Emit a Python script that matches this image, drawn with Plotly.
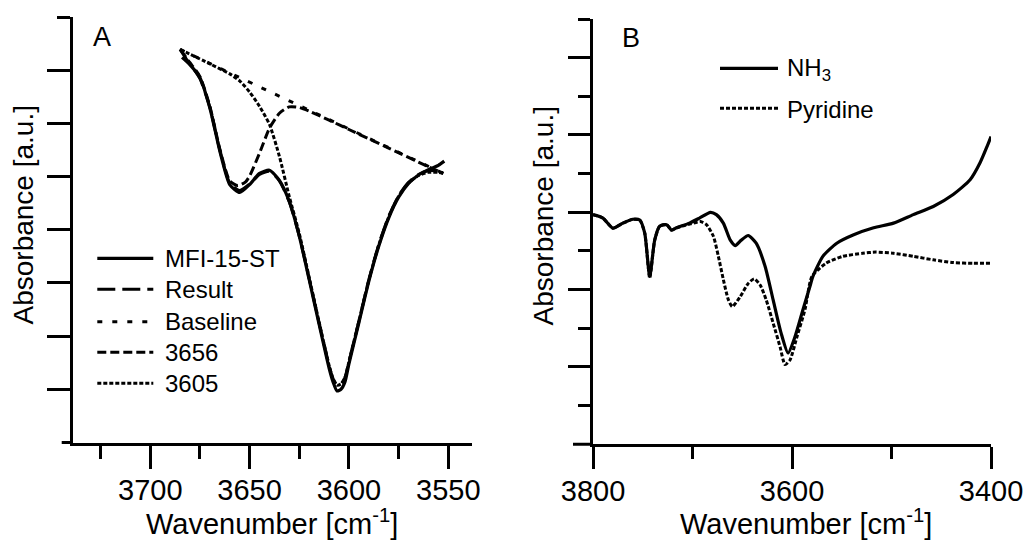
import plotly.graph_objects as go

# ---------------- data: panel A (band fit of MFI-15-ST) ----------------
A_WN_MFI = [3684, 3680, 3675, 3670, 3665, 3660, 3655, 3650, 3645, 3640, 3635, 3630,
            3625, 3620, 3615, 3610, 3608, 3606, 3604, 3602, 3600, 3595, 3590, 3585,
            3580, 3575, 3570, 3565, 3560, 3555, 3552]
A_MFI = [7.24, 7.10, 6.86, 6.29, 5.48, 4.85, 4.70, 4.85, 5.06, 5.12, 4.93, 4.53,
         3.88, 3.06, 2.22, 1.40, 1.14, 0.97, 1.00, 1.14, 1.48, 2.25, 3.03, 3.69,
         4.22, 4.61, 4.87, 5.03, 5.13, 5.21, 5.29]

A_WN_RES = [3685, 3682, 3680, 3675, 3670, 3665, 3660, 3655, 3650, 3645, 3640, 3635,
            3630, 3625, 3620, 3615, 3610, 3608, 3606, 3604, 3602, 3600, 3595, 3590,
            3585, 3580, 3575, 3570, 3565, 3560, 3555, 3552.5]
A_RES = [7.39, 7.22, 7.12, 6.84, 6.30, 5.50, 4.88, 4.74, 4.86, 5.04, 5.10, 4.92,
         4.52, 3.88, 3.08, 2.25, 1.45, 1.20, 1.08, 1.10, 1.22, 1.52, 2.28, 3.06,
         3.72, 4.25, 4.64, 4.89, 5.04, 5.11, 5.10, 5.06]

A_WN_BASE = [3685, 3552.5]
A_BASE = [7.39, 5.06]

A_WN_3656 = [3685, 3680, 3675, 3670, 3665, 3660, 3656, 3652, 3650, 3645, 3640, 3635,
             3630, 3625, 3620, 3610, 3600, 3580, 3560, 3552.5]
A_3656 = [7.39, 7.14, 6.88, 6.32, 5.52, 4.92, 4.83, 4.90, 5.01, 5.44, 5.91, 6.19,
          6.31, 6.30, 6.23, 6.06, 5.885, 5.535, 5.185, 5.06]

A_WN_3605 = [3685, 3670, 3660, 3655, 3650, 3645, 3640, 3635, 3630, 3625, 3620, 3615,
             3610, 3608, 3606, 3604, 3602, 3600, 3595, 3590, 3585, 3580, 3575, 3570,
             3565, 3560, 3555, 3552.5]
A_3605 = [7.39, 7.12, 6.93, 6.80, 6.59, 6.32, 5.98, 5.38, 4.62, 3.93, 3.10, 2.26,
          1.45, 1.20, 1.08, 1.10, 1.22, 1.52, 2.28, 3.05, 3.71, 4.24, 4.63, 4.88,
          5.02, 5.08, 5.08, 5.06]

A_NAMES = ["MFI-15-ST", "Result", "Baseline", "3656", "3605"]

# ---------------- data: panel B (NH3 / pyridine) ----------------
B_WN_NH3 = [3800, 3790, 3780, 3770, 3760, 3753, 3748, 3743, 3738, 3733, 3726, 3721,
            3716, 3703, 3693, 3682, 3676, 3669, 3662, 3657, 3651, 3644, 3636, 3627,
            3619, 3611, 3604, 3597, 3589, 3582, 3579, 3569, 3555, 3538, 3518, 3498,
            3478, 3458, 3438, 3421, 3411, 3404, 3400]
B_NH3 = [2.97, 2.925, 2.795, 2.86, 2.91, 2.90, 2.73, 2.17, 2.64, 2.82, 2.84, 2.77,
         2.80, 2.86, 2.925, 3.00, 2.97, 2.86, 2.64, 2.57, 2.64, 2.70, 2.60, 2.30,
         1.87, 1.44, 1.18, 1.39, 1.74, 2.04, 2.17, 2.43, 2.60, 2.71, 2.80, 2.86,
         2.97, 3.075, 3.23, 3.42, 3.64, 3.85, 3.98]

B_WN_PYR = [3800, 3790, 3780, 3770, 3760, 3753, 3748, 3743, 3738, 3733, 3726, 3721,
            3716, 3702, 3692, 3686, 3679, 3674, 3669, 3664, 3660, 3652, 3644, 3638,
            3632, 3626, 3619, 3612, 3607, 3602, 3595, 3587, 3580, 3566, 3549, 3529,
            3516, 3498, 3478, 3458, 3438, 3418, 3400]
B_PYR = [2.97, 2.925, 2.795, 2.86, 2.91, 2.90, 2.73, 2.15, 2.64, 2.82, 2.84, 2.77,
         2.80, 2.85, 2.88, 2.84, 2.69, 2.43, 2.13, 1.87, 1.78, 1.91, 2.08, 2.14,
         2.06, 1.87, 1.57, 1.26, 1.03, 1.09, 1.39, 1.74, 2.17, 2.34, 2.43, 2.47,
         2.485, 2.47, 2.43, 2.385, 2.35, 2.34, 2.34]

B_NAMES = ["NH<sub>3</sub>", "Pyridine"]

A_XTICKS = [3700, 3650, 3600, 3550]
A_XMINOR = [3725, 3675, 3625, 3575]
B_XTICKS = [3800, 3600, 3400]
B_XMINOR = [3700, 3500]

X_TITLE = "Wavenumber [cm<sup>-1</sup>]"
Y_TITLE = "Absorbance [a.u.]"

# ---------------- styling ----------------
W, H = 1027, 540
FONT = "Arial, Liberation Sans, sans-serif"
BLACK = "#000000"

def fx(p):
    return p / W

def fy(p):
    return 1 - p / H

A_STYLE = [dict(dash="solid", width=3.2), dict(dash="18px,7px", width=3),
           dict(dash="5px,10px", width=3), dict(dash="9px,4px", width=3),
           dict(dash="4px,2px", width=3)]
B_STYLE = [dict(dash="solid", width=3.2), dict(dash="4px,2px", width=3)]

fig = go.Figure()

a_series = [(A_WN_MFI, A_MFI), (A_WN_RES, A_RES), (A_WN_BASE, A_BASE),
            (A_WN_3656, A_3656), (A_WN_3605, A_3605)]
for i in [2, 3, 4, 1, 0]:
    xs, ys = a_series[i]
    fig.add_trace(go.Scatter(
        x=xs, y=ys, name=A_NAMES[i], mode="lines", xaxis="x", yaxis="y",
        line=dict(color=BLACK, shape="linear" if i == 2 else "spline", smoothing=0.6,
                  **A_STYLE[i]),
        showlegend=False))

b_series = [(B_WN_NH3, B_NH3), (B_WN_PYR, B_PYR)]
for i in [1, 0]:
    xs, ys = b_series[i]
    fig.add_trace(go.Scatter(
        x=xs, y=ys, name=B_NAMES[i], mode="lines", xaxis="x2", yaxis="y2",
        line=dict(color=BLACK, shape="spline", smoothing=0.6, **B_STYLE[i]),
        showlegend=False))

common_axis = dict(showline=True, linewidth=3, linecolor=BLACK, showgrid=False,
                   zeroline=False, ticks="outside", tickwidth=3, tickcolor=BLACK,
                   automargin=False,
                   tickfont=dict(family=FONT, size=29, color=BLACK))

fig.update_layout(
    template="none",
    width=W, height=H, margin=dict(l=0, r=0, t=0, b=0, pad=0, autoexpand=False),
    paper_bgcolor="white", plot_bgcolor="white", showlegend=False,
    font=dict(family=FONT, color=BLACK),
    xaxis=dict(domain=[fx(73), fx(471.7)], range=[3738.9, 3538.2], anchor="y",
               tickmode="array", tickvals=A_XTICKS, ticklen=23, ticklabelstandoff=-3,
               minor=dict(tickvals=A_XMINOR, ticklen=13, ticks="outside",
                          tickwidth=3, tickcolor=BLACK),
               **common_axis),
    yaxis=dict(domain=[fy(442.5), fy(17)], range=[0, 8], anchor="x",
               tickmode="array", tickvals=[1, 2, 3, 4, 5, 6, 7], ticklen=23,
               showticklabels=False,
               minor=dict(tickvals=[8], ticklen=13, ticks="outside",
                          tickwidth=3, tickcolor=BLACK),
               **common_axis),
    xaxis2=dict(domain=[fx(593), fx(991)], range=[3800, 3400], anchor="y2",
                tickmode="array", tickvals=B_XTICKS, ticklen=22, ticklabelstandoff=-3,
                minor=dict(tickvals=B_XMINOR, ticklen=12, ticks="outside",
                           tickwidth=3, tickcolor=BLACK),
                **common_axis),
    yaxis2=dict(domain=[fy(444.25), fy(19)], range=[0, 5.5], anchor="x2",
                tickmode="array", tickvals=[1, 2, 3, 4, 5], ticklen=22,
                showticklabels=False,
                minor=dict(tickvals=[0.5, 1.5, 2.5, 3.5, 4.5, 5.5], ticklen=12,
                           ticks="outside", tickwidth=3, tickcolor=BLACK),
                **common_axis),
)

shapes = []
annotations = []

# x-axis line stubs extending left of the y axes
shapes.append(dict(type="line", xref="paper", yref="paper", x0=fx(61.7), x1=fx(73),
                   y0=fy(442.5), y1=fy(442.5), line=dict(color=BLACK, width=3)))
shapes.append(dict(type="line", xref="paper", yref="paper", x0=fx(573), x1=fx(593),
                   y0=fy(444.25), y1=fy(444.25), line=dict(color=BLACK, width=3)))

def text(x, y, s, size, xanchor="center", yanchor="middle", angle=0):
    annotations.append(dict(x=fx(x), y=fy(y), xref="paper", yref="paper", text=s,
                            showarrow=False, xanchor=xanchor, yanchor=yanchor,
                            textangle=angle,
                            font=dict(family=FONT, size=size, color=BLACK)))

# axis titles
text(272, 522, X_TITLE, 29)
text(806, 522, X_TITLE, 29)
text(23, 215.5, Y_TITLE, 28, angle=-90)
text(543, 216.5, Y_TITLE, 28, angle=-90)

# panel letters
text(101.7, 37.5, "A", 27)
text(631, 38, "B", 27)

# legend of panel A
A_ROWS = [258.3, 289.3, 321.7, 352.3, 383.3]
for i, yy in enumerate(A_ROWS):
    shapes.append(dict(type="line", xref="paper", yref="paper", x0=fx(97.3), x1=fx(153.3),
                       y0=fy(yy), y1=fy(yy),
                       line=dict(color=BLACK, width=A_STYLE[i]["width"],
                                 dash=A_STYLE[i]["dash"])))
    text(162.7, yy, A_NAMES[i], 24, xanchor="left")

# legend of panel B
B_ROWS = [68.3, 108.3]
for i, yy in enumerate(B_ROWS):
    shapes.append(dict(type="line", xref="paper", yref="paper", x0=fx(720), x1=fx(778),
                       y0=fy(yy), y1=fy(yy),
                       line=dict(color=BLACK, width=B_STYLE[i]["width"],
                                 dash=B_STYLE[i]["dash"])))
    text(785, yy + 1, B_NAMES[i], 24, xanchor="left")

fig.update_layout(shapes=shapes, annotations=annotations)

fig.write_html("out.html", config={"displayModeBar": False})
